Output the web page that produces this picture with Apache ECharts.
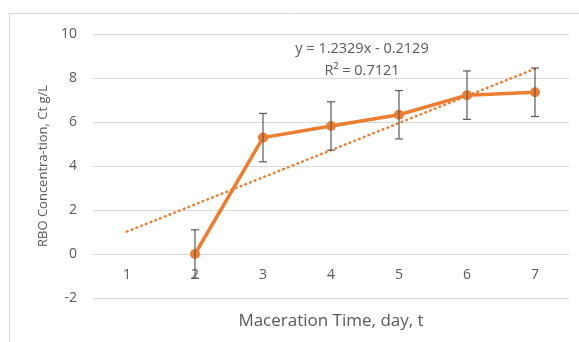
<!DOCTYPE html>
<html>
<head>
<meta charset="utf-8">
<script src="https://cdn.jsdelivr.net/npm/echarts@6/dist/echarts.min.js"></script>
<style>
  html, body { margin: 0; padding: 0; background: #fff; }
  #chart { width: 579px; height: 342px; }
</style>
</head>
<body>
<div id="chart"></div>
<script>
  // data
  var days = ['1', '2', '3', '4', '5', '6', '7'];
  var concentration = ['-', 0, 5.29, 5.82, 6.33, 7.22, 7.35];
  var errorSize = [0, 1.1, 1.1, 1.1, 1.1, 1.1, 1.1];
  // linear trendline ends (y = 1.2329x - 0.2129)
  var trendline = [1.02, '-', '-', '-', '-', '-', 8.42];
  var yTicks = { min: -2, max: 10, interval: 2 };

  var orange = '#ED7D31';
  var textGrey = '#595959';

  var errorData = [];
  concentration.forEach(function (v, i) {
    if (v !== '-') errorData.push([i, v - errorSize[i], v + errorSize[i]]);
  });

  var chart = echarts.init(document.getElementById('chart'));
  chart.setOption({
    animation: false,
    graphic: [{
      type: 'rect',
      shape: { x: 9.5, y: 13.5, width: 600, height: 400 },
      style: { fill: 'none', stroke: '#D9D9D9', lineWidth: 1 },
      silent: true
    }, {
      type: 'text',
      x: 362, y: 49,
      style: { text: 'y = 1.2329x - 0.2129', fill: textGrey, font: '14.5px "Open Sans", sans-serif', align: 'center', verticalAlign: 'middle' }
    }, {
      type: 'text',
      x: 362, y: 71,
      style: { text: 'R² = 0.7121', fill: textGrey, font: '14.5px "Open Sans", sans-serif', align: 'center', verticalAlign: 'middle' }
    }],
    grid: { left: 93, right: 10, top: 34, bottom: 44, outerBoundsMode: 'none', containLabel: false },
    xAxis: {
      type: 'category',
      data: days,
      boundaryGap: true,
      offset: -44,
      name: 'Maceration Time, day, t',
      nameLocation: 'middle',
      nameGap: 59,
      nameTextStyle: { color: textGrey, fontSize: 17, fontFamily: 'Open Sans' },
      axisLine: { show: false, onZero: false },
      axisTick: { show: false },
      axisLabel: { color: textGrey, fontSize: 14, fontFamily: 'Open Sans', margin: 14 }
    },
    yAxis: {
      type: 'value',
      min: yTicks.min, max: yTicks.max, interval: yTicks.interval,
      name: 'RBO Concentra-tion, Ct g/L',
      nameLocation: 'middle',
      nameGap: 41,
      nameTextStyle: { color: textGrey, fontSize: 13, fontFamily: 'Open Sans' },
      axisLine: { show: false },
      axisTick: { show: false },
      axisLabel: { color: textGrey, fontSize: 14, fontFamily: 'Open Sans', margin: 16 },
      splitLine: { lineStyle: { color: '#D9D9D9' } }
    },
    series: [{
      type: 'line',
      data: trendline,
      connectNulls: true,
      symbol: 'none',
      lineStyle: { color: orange, width: 2.6, type: [0.5, 4.6], cap: 'round' },
      z: 1
    }, {
      type: 'line',
      data: concentration,
      symbol: 'circle',
      symbolSize: 10,
      itemStyle: { color: orange },
      lineStyle: { color: orange, width: 3.5 },
      z: 3
    }, {
      type: 'custom',
      data: errorData,
      z: 4,
      renderItem: function (params, api) {
        var lo = api.coord([api.value(0), api.value(1)]);
        var hi = api.coord([api.value(0), api.value(2)]);
        var cap = 4;
        var st = { stroke: textGrey, lineWidth: 1.2 };
        return {
          type: 'group',
          children: [
            { type: 'line', shape: { x1: hi[0], y1: hi[1], x2: lo[0], y2: lo[1] }, style: st },
            { type: 'line', shape: { x1: hi[0] - cap, y1: hi[1], x2: hi[0] + cap, y2: hi[1] }, style: st },
            { type: 'line', shape: { x1: lo[0] - cap, y1: lo[1], x2: lo[0] + cap, y2: lo[1] }, style: st }
          ]
        };
      }
    }]
  });
</script>
</body>
</html>
